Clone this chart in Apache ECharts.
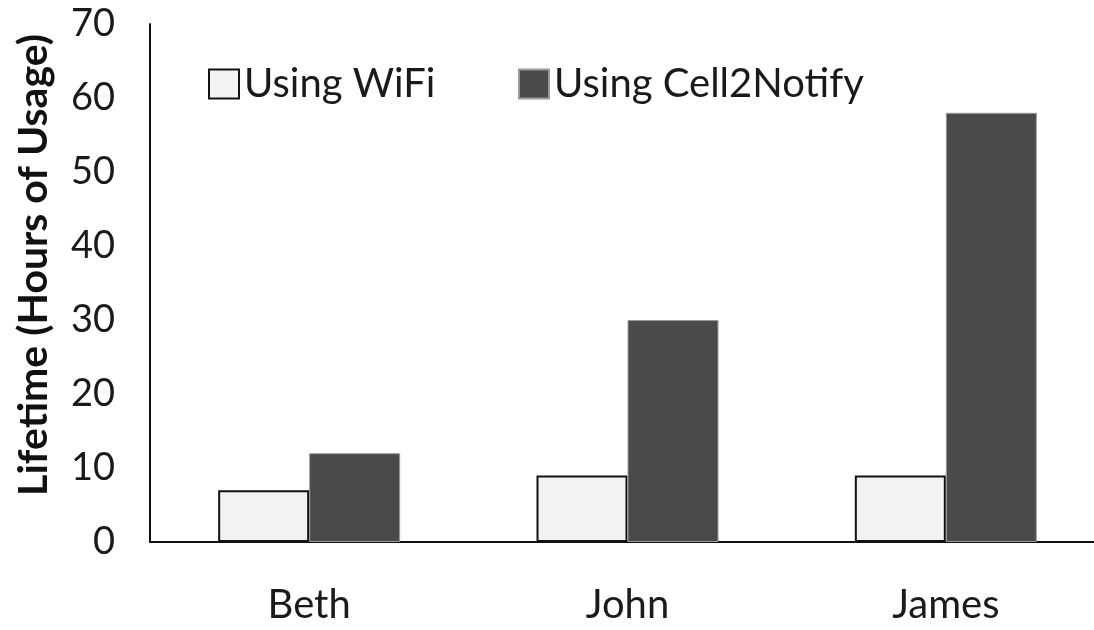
<!DOCTYPE html>
<html>
<head>
<meta charset="utf-8">
<script src="https://cdn.jsdelivr.net/npm/echarts@6/dist/echarts.min.js"></script>
<style>
  html, body { margin: 0; padding: 0; background: #fff; }
  #chart { width: 1094px; height: 630px; }
</style>
</head>
<body>
<div id="chart"></div>
<script>
// Battery lifetime per user
const users = ['Beth', 'John', 'James'];
const wifiHours = [7, 9, 9];
const cell2NotifyHours = [12, 30, 58];
const yTicks = [0, 10, 20, 30, 40, 50, 60, 70];

const FONT = 'Lato, "Open Sans", sans-serif';
const chart = echarts.init(document.getElementById('chart'), null, { renderer: 'canvas' });

chart.setOption({
  backgroundColor: '#ffffff',
  animation: false,
  textStyle: { fontFamily: FONT },
  legend: [
    {
      data: ['Using WiFi'],
      left: 203, top: 59,
      itemWidth: 30, itemHeight: 29,
      icon: 'rect',
      textStyle: { fontSize: 40, color: '#1a1a1a', fontFamily: FONT }
    },
    {
      data: ['Using Cell2Notify'],
      left: 513, top: 59,
      itemWidth: 30, itemHeight: 29,
      icon: 'rect',
      textStyle: { fontSize: 40, color: '#1a1a1a', fontFamily: FONT }
    }
  ],
  grid: {
    left: 150, width: 955, top: 24, bottom: 88,
    containLabel: false,
    outerBoundsMode: 'none'
  },
  xAxis: {
    type: 'category',
    data: users,
    axisLine: { lineStyle: { color: '#111', width: 2 } },
    axisTick: { show: false },
    axisLabel: { fontSize: 40, color: '#1a1a1a', margin: 43, fontFamily: FONT }
  },
  yAxis: {
    type: 'value',
    min: yTicks[0],
    max: yTicks[yTicks.length - 1],
    interval: yTicks[1] - yTicks[0],
    name: 'Lifetime (Hours of Usage)',
    nameLocation: 'middle',
    nameGap: 96,
    nameTextStyle: { fontSize: 41, fontWeight: 'bold', color: '#111', fontFamily: FONT, padding: [0, 0, 0, 36] },
    axisLine: { show: true, lineStyle: { color: '#111', width: 2 } },
    axisTick: { show: false },
    splitLine: { show: false },
    axisLabel: { fontSize: 38, color: '#1a1a1a', margin: 35, fontFamily: FONT }
  },
  series: [
    {
      name: 'Using WiFi',
      type: 'bar',
      data: wifiHours,
      barWidth: 91,
      barGap: '0%',
      itemStyle: { color: '#f2f2f2', borderColor: '#111', borderWidth: 2 }
    },
    {
      name: 'Using Cell2Notify',
      type: 'bar',
      data: cell2NotifyHours,
      barWidth: 91,
      barGap: '0%',
      itemStyle: { color: '#4a4a4a', borderColor: '#9a9a9a', borderWidth: 1 }
    }
  ]
});
</script>
</body>
</html>
